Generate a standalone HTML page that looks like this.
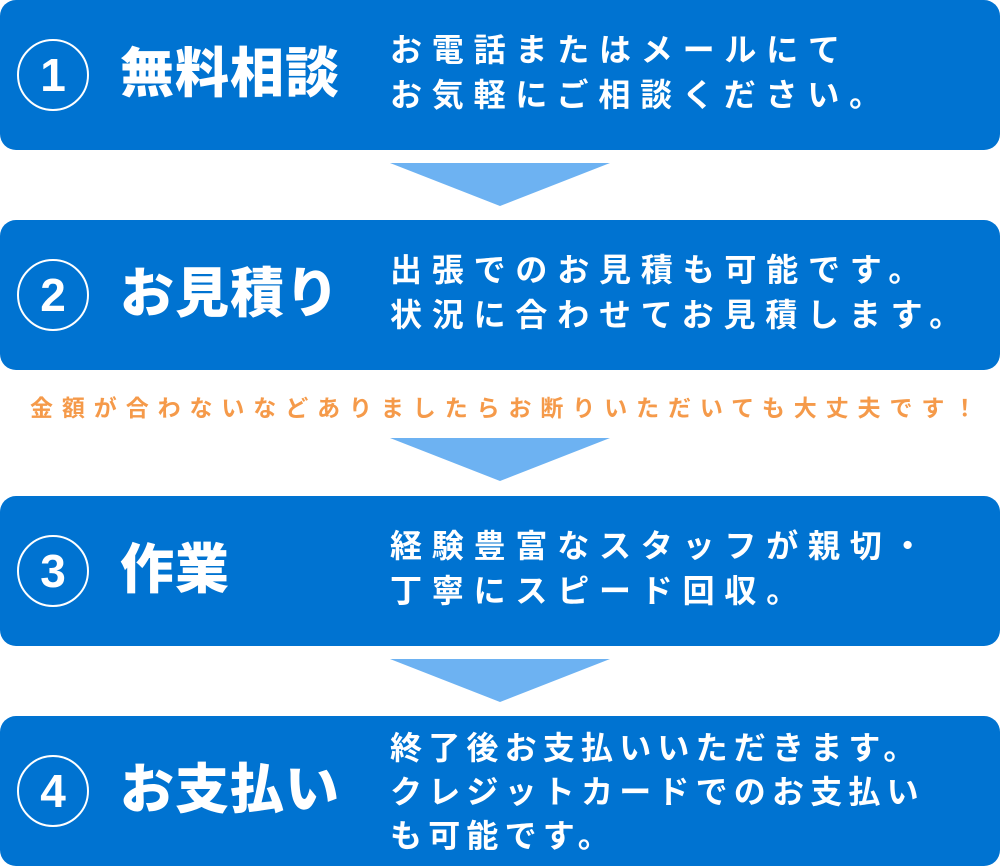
<!DOCTYPE html>
<html><head><meta charset="utf-8"><style>
body{margin:0;width:1000px;height:866px;background:#fff;position:relative;overflow:hidden;font-family:"Liberation Sans","Noto Sans CJK JP",sans-serif;}
.box{position:absolute;left:0;width:1000px;height:150px;background:#0073d1;border-radius:16px;color:#fff;}
.c{position:absolute;left:17px;top:39px;width:72px;height:72px;border:2.5px solid #fff;border-radius:50%;box-sizing:border-box;text-align:center;line-height:68px;font-size:46px;font-weight:bold;font-family:"Liberation Sans",sans-serif;}
.t{position:absolute;left:120px;top:42px;font-size:54px;font-weight:900;line-height:64px;letter-spacing:1px;}
.d{position:absolute;left:390px;font-size:32px;font-weight:bold;line-height:45px;letter-spacing:9.8px;white-space:nowrap;}
.tri{position:absolute;left:390px;width:0;height:0;border-left:110px solid transparent;border-right:110px solid transparent;border-top:43px solid #6db2f2;}
.o{position:absolute;left:30px;top:392px;font-size:23px;font-weight:bold;color:#f59a4a;letter-spacing:8.9px;white-space:nowrap;line-height:32px;}
</style></head><body>
<div class="box" style="top:0"><div class="c">1</div><div class="t">無料相談</div><div class="d" style="top:28px">お電話またはメールにて<br>お気軽にご相談ください。</div></div>
<div class="tri" style="top:163px"></div>
<div class="box" style="top:220px"><div class="c">2</div><div class="t">お見積り</div><div class="d" style="top:28px">出張でのお見積も可能です。<br>状況に合わせてお見積します。</div></div>
<div class="o">金額が合わないなどありましたらお断りいただいても大丈夫です！</div>
<div class="tri" style="top:438px"></div>
<div class="box" style="top:496px"><div class="c">3</div><div class="t">作業</div><div class="d" style="top:28px">経験豊富なスタッフが親切・<br>丁寧にスピード回収。</div></div>
<div class="tri" style="top:659px"></div>
<div class="box" style="top:716px"><div class="c">4</div><div class="t">お支払い</div><div class="d" style="top:10px;line-height:44px;letter-spacing:6.2px">終了後お支払いいただきます。<br>クレジットカードでのお支払い<br>も可能です。</div></div>
</body></html>
